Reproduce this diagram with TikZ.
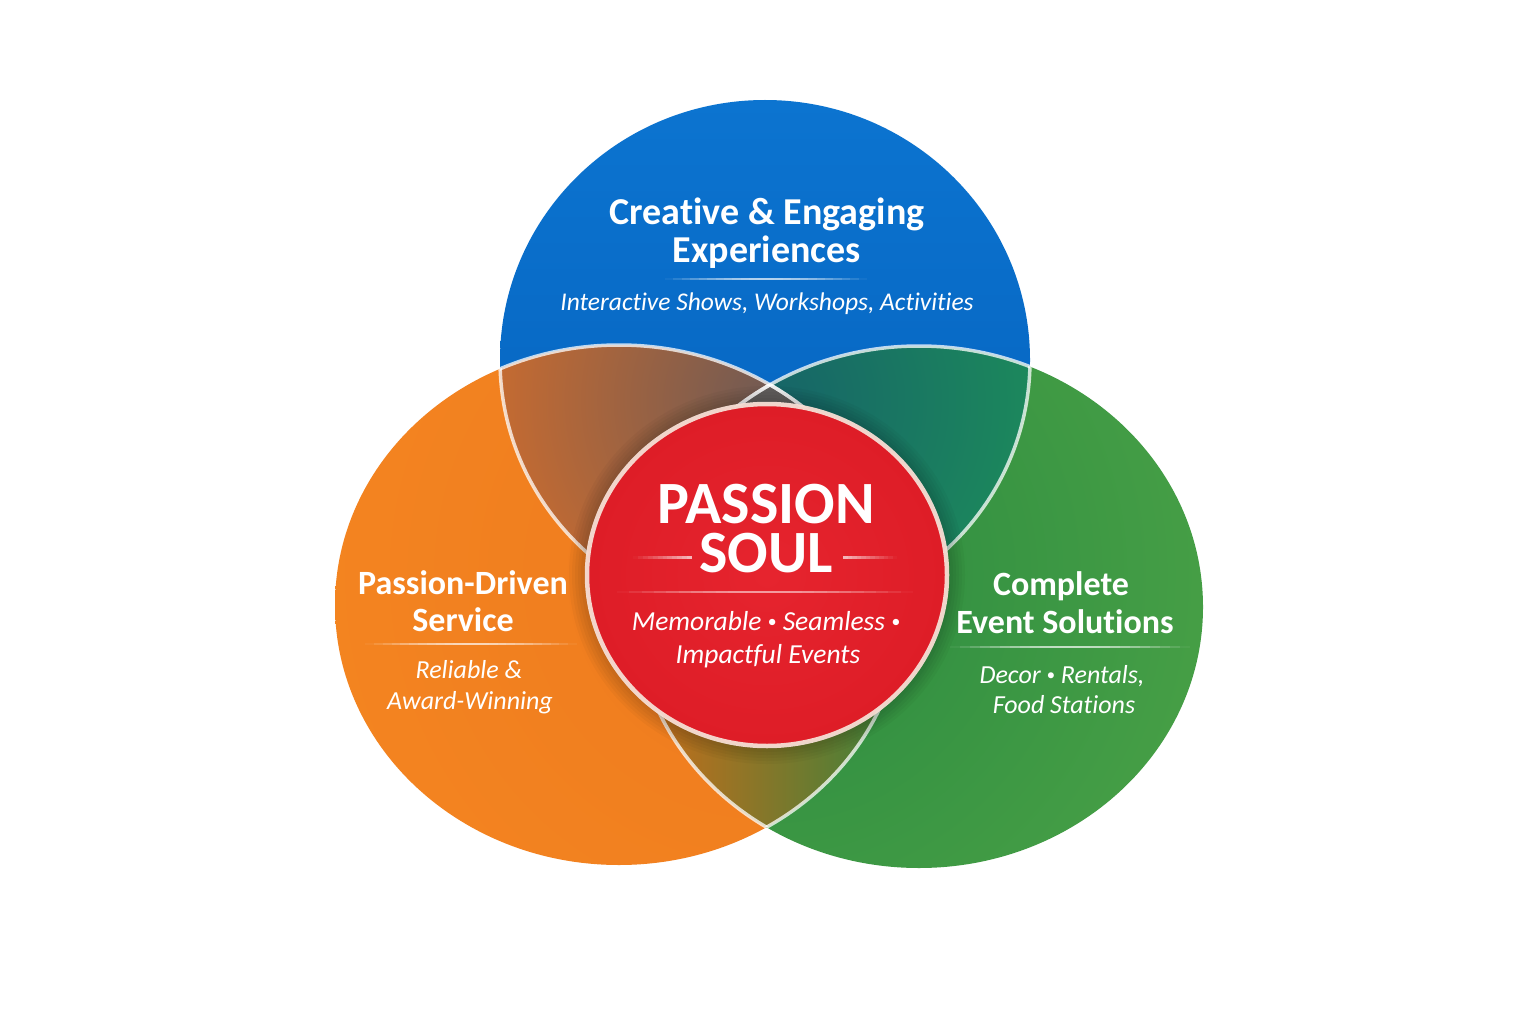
\documentclass[tikz,border=0pt]{standalone}
\usepackage{fontspec}
\setmainfont{Carlito}[RawFeature={-liga;-rlig;-clig;-calt;-dlig}]

\definecolor{bluetop}{RGB}{12,116,208}
\definecolor{bluebot}{RGB}{4,96,188}
\definecolor{orng}{RGB}{248,140,34}
\definecolor{orngdk}{RGB}{238,122,30}
\definecolor{grn}{RGB}{92,175,74}
\definecolor{grndk}{RGB}{42,138,64}
\definecolor{redc}{RGB}{222,29,39}
\definecolor{redin}{RGB}{230,36,46}
\definecolor{rimc}{RGB}{246,222,212}
\definecolor{bo}{RGB}{214,110,42}
\definecolor{bodk}{RGB}{112,90,84}
\definecolor{bg}{RGB}{30,148,88}
\definecolor{bgdk}{RGB}{22,100,104}
\definecolor{ogl}{RGB}{190,110,28}
\definecolor{ogm}{RGB}{196,166,48}
\definecolor{ogr}{RGB}{72,128,56}
\definecolor{trip}{RGB}{100,96,94}

% thin light rule, faint at both ends: x from, x to, y, width, peak opacity
\newcommand\glowbar[5]{%
   \foreach \i [evaluate=\i as \op using {#5*sin(3.75*(2*\i+1))}] in {0,...,23}
      \draw[white,line width=#4,draw opacity=\op]
         ({#1+(#2-#1)*\i/24},#3) -- ({#1+(#2-#1)*(\i+1)/24},#3);}
% rule that grows from #1 towards #2
\newcommand\rampbar[5]{%
   \foreach \i [evaluate=\i as \op using {#5*(\i+0.5)/12}] in {0,...,11}
      \draw[white,line width=#4,draw opacity=\op]
         ({#1+(#2-#1)*\i/12},#3) -- ({#1+(#2-#1)*(\i+1)/12},#3);}
% small bullet between words
\newcommand\sep{\raisebox{0.1em}{\scalebox{0.65}{•}}}

\begin{document}
\begin{tikzpicture}[x=1pt,y=-1pt,
      head/.style={text=white,inner sep=0pt,anchor=base,
         font=\fontsize{#1}{#1}\selectfont\bfseries},
      note/.style={text=white,inner sep=0pt,anchor=base,
         font=\fontsize{#1}{#1}\selectfont\itshape},
      rim/.style={draw=white,draw opacity=0.75,line width=3.5pt},
      blueset/.style={insert path={(cB) ellipse [x radius=265pt,y radius=260pt]}},
      orngset/.style={insert path={(cO) ellipse [x radius=284pt,y radius=260pt]}},
      grnset/.style={insert path={(cG) ellipse [x radius=284pt,y radius=261pt]}},
      redset/.style={insert path={(cR) ellipse [x radius=180pt,y radius=171pt]}}
      ]
      \useasboundingbox (0,0) rectangle (1536,1024);
      \fill[white] (0,0) rectangle (1536,1024);

      \coordinate (cB) at (765,360);
      \coordinate (cO) at (619,605);
      \coordinate (cG) at (919,607);
      \coordinate (cR) at (767,575);

      % the three sets
      \shade[top color=bluetop,bottom color=bluebot,blueset];
      \begin{scope}
         \clip[orngset];
         \shade[inner color=orngdk,outer color=orng] (cR) circle [radius=800pt];
      \end{scope}
      \begin{scope}
         \clip[grnset];
         \shade[inner color=grndk,outer color=grn] (cR) circle [radius=800pt];
      \end{scope}

      % overlaps
      \begin{scope}
         \clip[blueset]; \clip[orngset];
         \shade[inner color=bodk,outer color=bo] (770,400) circle [radius=330pt];
      \end{scope}
      \begin{scope}
         \clip[blueset]; \clip[grnset];
         \shade[inner color=bgdk,outer color=bg] (770,400) circle [radius=350pt];
      \end{scope}
      \begin{scope}
         \clip[orngset]; \clip[grnset];
         \shade[left color=ogl,middle color=ogm,right color=ogr] (660,690) rectangle (875,835);
      \end{scope}
      \begin{scope}
         \clip[blueset]; \clip[orngset]; \clip[grnset];
         \fill[trip] (600,340) rectangle (940,640);
      \end{scope}

      % light rims inside the overlaps
      \begin{scope}
         \clip[orngset];
         \path[rim,blueset]; \path[rim,grnset];
      \end{scope}
      \begin{scope}
         \clip[grnset];
         \path[rim,blueset]; \path[rim,orngset];
      \end{scope}
      \begin{scope}
         \clip[blueset];
         \path[rim,orngset]; \path[rim,grnset];
      \end{scope}

      % centre disc
      \foreach \k in {1,...,6}
         \fill[black,opacity=0.03] (cR) ellipse [x radius=180pt+3pt*\k,y radius=171pt+3pt*\k];
      \shade[inner color=redin,outer color=redc,redset];
      \draw[draw=rimc,draw opacity=0.95,line width=4.5pt,redset];

      % texts
      \node[head=38] (blueA) at (767,225) {Creative \& Engaging};
      \node[head=38] (blueB) at (767,263) {Experiences};
      \glowbar{665}{867}{279}{1.8pt}{0.7}
      \node[note=25.5] (blueC) at (767,310) {Interactive Shows, Workshops, Activities};

      \node[head=34] (orngA) at (463,594) {Passion-Driven};
      \node[head=34] (orngB) at (463,631) {Service};
      \glowbar{365}{577}{644}{1.8pt}{0.7}
      \node[note=26] (orngC) at (469,678) {Reliable \&};
      \node[note=26] (orngD) at (470,709) {Award-Winning};

      \node[head=34] (grnA) at (1061,595) {Complete};
      \node[head=34] (grnB) at (1065,633) {Event Solutions};
      \glowbar{950}{1190}{647}{1.8pt}{0.7}
      \node[note=26] (grnC) at (1062,683) {Decor \sep{} Rentals,};
      \node[note=26] (grnD) at (1064,713) {Food Stations};

      \node[head=60] (redA) at (766,523) {PASSION};
      \node[head=60] (redB) at (766,572) {SOUL};
      \rampbar{633}{692}{557}{3pt}{0.7}
      \rampbar{897}{843}{557}{3pt}{0.7}
      \glowbar{617}{913}{592}{2pt}{0.55}
      \node[note=27.5] (redC) at (766,630) {Memorable \sep{} Seamless \sep};
      \node[note=27.5] (redD) at (768,663) {Impactful Events};
\end{tikzpicture}
\end{document}
